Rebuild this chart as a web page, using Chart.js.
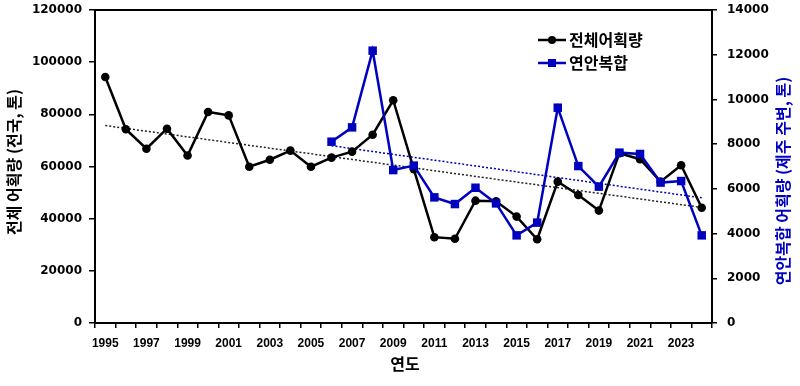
<!DOCTYPE html>
<html>
<head>
<meta charset="utf-8">
<script src="https://cdn.jsdelivr.net/npm/chart.js@4.4.1/dist/chart.umd.min.js"></script>
<style>
  html, body { margin: 0; padding: 0; background: #fff; }
</style>
</head>
<body>
<canvas id="catchChart" width="800" height="386"></canvas>
<script>
// 연도
const years = ["1995", "1996", "1997", "1998", "1999", "2000", "2001", "2002", "2003", "2004",
  "2005", "2006", "2007", "2008", "2009", "2010", "2011", "2012", "2013", "2014",
  "2015", "2016", "2017", "2018", "2019", "2020", "2021", "2022", "2023", "2024"];

// 전체 어획량 (전국, 톤)
const totalCatch = [94300, 74300, 66800, 74500, 64200, 80900, 79600, 59900, 62600, 66100,
  59900, 63400, 65700, 72200, 85400, 59000, 32900, 32300, 46900, 46700,
  40800, 32100, 54200, 49100, 43100, 65100, 62800, 54200, 60500, 44200];

// 연안복합 어획량 (제주 주변, 톤) - 2006년부터
const coastalCatch = [null, null, null, null, null, null, null, null, null, null,
  null, 8110, 8750, 12180, 6840, 7040, 5620, 5320, 6050, 5350,
  3920, 4490, 9630, 7020, 6100, 7620, 7560, 6280, 6350, 3920];

// 추세선 양 끝값
const totalTrendYears = ["1995", "2024"];
const totalTrendValues = [75700, 44300];
const coastalTrendYears = ["2006", "2024"];
const coastalTrendValues = [7930, 5600];

// 축 눈금
const leftTicks = { min: 0, max: 120000, step: 20000 };
const rightTicks = { min: 0, max: 14000, step: 2000 };

const BLUE = "#0000BF";
const KFONT = "'Noto Sans CJK KR', 'Noto Sans', sans-serif";

const toPoints = (xs, ys) => xs.map((x, i) => ({ x: x, y: ys[i] }));
const plainNumber = (value) => String(value);

// y축 폭 고정 (위아래 라벨 여백은 무시)
const fixWidth = (w) => (scale) => {
  scale.width = w;
  scale.paddingTop = 0;
  scale.paddingBottom = 0;
};

// 축 제목, 범례, 위쪽 테두리
const decorations = {
  id: "decorations",
  afterDraw(chart) {
    const c = chart.ctx;
    const area = chart.chartArea;
    c.save();

    // 위쪽 테두리
    c.strokeStyle = "#000";
    c.lineWidth = 2;
    c.beginPath();
    c.moveTo(area.left - 1, area.top);
    c.lineTo(area.right + 1, area.top);
    c.stroke();

    // 축 제목
    c.font = "bold 16px " + KFONT;
    c.textAlign = "center";
    c.textBaseline = "middle";
    c.fillStyle = "#000";
    c.fillText("연도", 405, 364);

    c.save();
    c.translate(14, 162);
    c.rotate(-Math.PI / 2);
    c.fillText("전체 어획량 (전국, 톤)", 0, 0);
    c.restore();

    c.save();
    c.translate(783, 181);
    c.rotate(-Math.PI / 2);
    c.fillStyle = BLUE;
    c.fillText("연안복합 어획량 (제주 주변, 톤)", 0, 0);
    c.restore();

    // 범례
    const entries = [
      { text: "전체어획량", color: "#000", style: "circle", y: 40 },
      { text: "연안복합", color: BLUE, style: "rect", y: 63 },
    ];
    entries.forEach((e) => {
      c.strokeStyle = e.color;
      c.fillStyle = e.color;
      c.lineWidth = 2.5;
      c.beginPath();
      c.moveTo(538, e.y);
      c.lineTo(566, e.y);
      c.stroke();
      if (e.style === "circle") {
        c.beginPath();
        c.arc(552, e.y, 4, 0, Math.PI * 2);
        c.fill();
      } else {
        c.fillRect(548, e.y - 4, 8, 8);
      }
      c.fillStyle = "#000";
      c.textAlign = "left";
      c.font = "bold 16px " + KFONT;
      c.fillText(e.text, 569, e.y);
    });

    c.restore();
  },
};

const ctx = document.getElementById("catchChart").getContext("2d");

const config = {
  type: "line",
  data: {
    labels: years,
    datasets: [
      {
        label: "연안복합",
        data: coastalCatch,
        yAxisID: "yRight",
        borderColor: BLUE,
        backgroundColor: BLUE,
        borderWidth: 2.5,
        pointStyle: "rect",
        pointRadius: 6,
        pointBorderWidth: 0,
        tension: 0,
        order: 0,
      },
      {
        label: "전체어획량",
        data: totalCatch,
        yAxisID: "yLeft",
        borderColor: "#000",
        backgroundColor: "#000",
        borderWidth: 2.5,
        pointStyle: "circle",
        pointRadius: 4.3,
        pointBorderWidth: 0,
        tension: 0,
        order: 1,
      },
      {
        label: "연안복합 추세",
        data: toPoints(coastalTrendYears, coastalTrendValues),
        yAxisID: "yRight",
        borderColor: BLUE,
        borderWidth: 1.5,
        borderDash: [2, 2],
        pointRadius: 0,
        order: 2,
      },
      {
        label: "전체 추세",
        data: toPoints(totalTrendYears, totalTrendValues),
        yAxisID: "yLeft",
        borderColor: "#222",
        borderWidth: 1.5,
        borderDash: [2, 2],
        pointRadius: 0,
        order: 3,
      },
    ],
  },
  options: {
    responsive: false,
    animation: false,
    layout: { padding: { top: 10, left: 0, right: 0, bottom: 0 } },
    plugins: {
      legend: { display: false },
      tooltip: { enabled: false },
    },
    scales: {
      x: {
        type: "category",
        offset: true,
        border: { display: true, color: "#000", width: 2 },
        grid: {
          offset: true,
          drawOnChartArea: false,
          drawTicks: true,
          tickLength: 5,
          color: "#000",
          lineWidth: 1.5,
        },
        ticks: {
          autoSkip: false,
          maxRotation: 0,
          padding: 8,
          color: "#000",
          font: { family: "'Liberation Sans', Arial, sans-serif", size: 12, weight: "bold" },
          callback: function (value, index) {
            return index % 2 === 0 ? this.getLabelForValue(value) : "";
          },
        },
        afterFit: (scale) => {
          scale.height = 63;
          scale.paddingLeft = 0;
          scale.paddingRight = 0;
        },
      },
      yLeft: {
        position: "left",
        min: leftTicks.min,
        max: leftTicks.max,
        border: { display: true, color: "#000", width: 2 },
        grid: {
          drawOnChartArea: false,
          drawTicks: true,
          tickLength: 6,
          color: "#000",
          lineWidth: 1.5,
        },
        ticks: {
          stepSize: leftTicks.step,
          padding: 7,
          color: "#000",
          font: { family: "'DejaVu Sans', sans-serif", size: 12, weight: "bold" },
          callback: plainNumber,
        },
        afterFit: fixWidth(95),
      },
      yRight: {
        position: "right",
        min: rightTicks.min,
        max: rightTicks.max,
        border: { display: true, color: "#000", width: 2 },
        grid: {
          drawOnChartArea: false,
          drawTicks: true,
          tickLength: 5,
          color: "#000",
          lineWidth: 1.5,
        },
        ticks: {
          stepSize: rightTicks.step,
          padding: 10,
          color: "#000",
          font: { family: "'DejaVu Sans', sans-serif", size: 12, weight: "bold" },
          callback: plainNumber,
        },
        afterFit: fixWidth(88),
      },
    },
  },
  plugins: [decorations],
};

let catchChart = new Chart(ctx, config);
</script>
</body>
</html>
